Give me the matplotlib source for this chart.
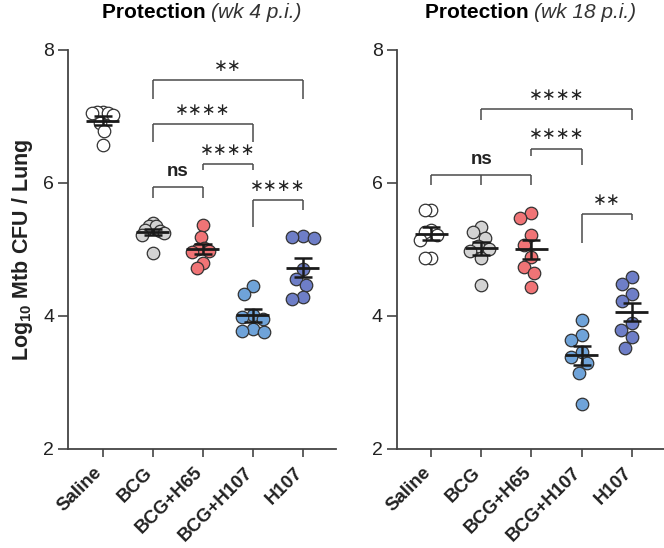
import numpy as np
import matplotlib.pyplot as plt
from matplotlib.transforms import ScaledTranslation

plt.rcParams['font.family'] = 'Liberation Sans'
plt.rcParams['mathtext.fontset'] = 'custom'
plt.rcParams['mathtext.rm'] = 'Liberation Sans'
plt.rcParams['mathtext.bf'] = 'Liberation Sans:bold'

# groups and colours
groups = ["Saline", "BCG", "BCG+H65", "BCG+H107", "H107"]
colors = ["#ffffff", "#d3d3d3", "#f07476", "#6fa3d9", "#6e7ec7"]

# week 4 p.i. (log10 CFU per lung)
wk4_saline = [7.07, 7.07, 7.05, 7.05, 7.02, 6.90, 6.78, 6.57]
wk4_bcg = [5.40, 5.35, 5.35, 5.30, 5.28, 5.25, 5.22, 4.95]
wk4_bcg_h65 = [5.37, 5.19, 5.02, 5.00, 4.98, 4.96, 4.80, 4.72]
wk4_bcg_h107 = [4.45, 4.33, 4.02, 3.98, 3.95, 3.80, 3.77, 3.76]
wk4_h107 = [5.20, 5.19, 5.17, 4.70, 4.55, 4.47, 4.28, 4.25]

# week 18 p.i.
wk18_saline = [5.60, 5.60, 5.30, 5.27, 5.22, 5.15, 4.87, 4.87]
wk18_bcg = [5.34, 5.27, 5.17, 5.05, 5.00, 4.98, 4.87, 4.47]
wk18_bcg_h65 = [5.55, 5.48, 5.22, 5.07, 4.89, 4.74, 4.64, 4.44]
wk18_bcg_h107 = [3.94, 3.71, 3.64, 3.46, 3.38, 3.29, 3.15, 2.68]
wk18_h107 = [4.59, 4.48, 4.33, 4.22, 3.89, 3.79, 3.68, 3.52]

# significance comparisons (group indices) and labels
wk4_pairs = [(1, 2), (2, 3), (3, 4), (1, 3), (1, 4)]
wk4_sig = ["ns", "****", "****", "****", "**"]
wk18_pairs = [(0, 1, 2), (2, 3), (3, 4), (1, 4)]
wk18_sig = ["ns", "****", "**", "****"]

# bracket layout: (top, leg ends, label y)
wk4_brackets = [(5.94, [5.77, 5.77], 6.17),
                (6.28, [6.20, 6.20], 6.50),
                (5.74, [5.34, 5.60], 5.95),
                (6.88, [6.62, 6.62], 7.10),
                (7.55, [7.27, 7.27], 7.76)]
wk18_brackets = [(6.12, [5.97, 5.97, 5.97], 6.36),
                 (6.51, [6.40, 6.27], 6.74),
                 (5.53, [5.10, 5.45], 5.75),
                 (7.11, [6.95, 6.95], 7.33)]

DIAM = 12.5  # marker diameter in px
SPREAD = 11  # max horizontal offset of a point centre, px


def swarm(ax, x0, vals, dmin):
    # simple beeswarm, then squeezed so the column stays narrow
    pts = ax.transData.transform(np.column_stack([np.full(len(vals), x0), vals]))
    ys = pts[:, 1]
    placed = []
    xs = np.zeros(len(vals))
    for i in np.argsort(-np.asarray(vals)):
        cands = [0.0]
        for (px, py) in placed:
            dy = abs(ys[i] - py)
            if dy < dmin:
                dx = np.sqrt(dmin ** 2 - dy ** 2)
                cands += [px - dx, px + dx]
        cands = sorted(cands, key=lambda c: (round(abs(c), 3), c))
        for c in cands:
            if all((c - px) ** 2 + (ys[i] - py) ** 2 >= dmin ** 2 - 1e-6 for px, py in placed):
                xs[i] = c
                placed.append((c, ys[i]))
                break
    if np.abs(xs).max() > SPREAD:
        xs = xs * SPREAD / np.abs(xs).max()
    scale = ax.transData.transform([[1, 0]])[0, 0] - ax.transData.transform([[0, 0]])[0, 0]
    return x0 + xs / scale


def bracket(ax, xs, top, legs, label, ty):
    c = "#4a4a4a"
    ax.plot([xs[0], xs[-1]], [top, top], color=c, lw=1.1, solid_capstyle='butt')
    for x, l in zip(xs, legs):
        ax.plot([x, x], [l, top], color=c, lw=1.1, solid_capstyle='butt')
    xm = (xs[0] + xs[-1]) / 2
    if label == "ns":
        ax.text(xm, ty, "ns", ha='center', va='center', fontsize=13.5, fontweight='bold',
                color='#222222')
    else:
        ax.text(xm, ty, "\u2217" * len(label), ha='center', va='center', fontsize=12,
                family='DejaVu Sans', color='#222222')


def title(fig, ax, week):
    # bold "Protection" followed by italic "(wk N p.i.)", centred over the axes
    t1 = fig.text(0, 0.978, "Protection ", fontsize=15, fontweight='bold', va='center')
    t2 = fig.text(0, 0.978, "(wk %d p.i.)" % week, fontsize=15, style='italic', va='center',
                  color='#333333')
    fig.canvas.draw()
    r = fig.canvas.get_renderer()
    w1 = t1.get_window_extent(r).width
    w2 = t2.get_window_extent(r).width
    bb = ax.get_window_extent(r)
    xc = (bb.x0 + bb.x1) / 2
    fw = fig.bbox.width
    x0 = xc - (w1 + w2) / 2
    t1.set_x(x0 / fw)
    t2.set_x((x0 + w1) / fw)


def panel(ax, data, pairs, sig, brk):
    ax.set_xlim(-0.69, 4.66)
    ax.set_ylim(2, 8)
    for i, vals in enumerate(data):
        vals = np.asarray(vals)
        xs = swarm(ax, i, vals, DIAM)
        ax.scatter(xs, vals, s=(DIAM * 0.72) ** 2, color=colors[i], edgecolor='#333333',
                   linewidth=0.9, zorder=3, clip_on=False)
        m = vals.mean()
        sem = vals.std(ddof=1) / np.sqrt(len(vals))
        ax.hlines(m, i - 0.33, i + 0.33, color='#1a1a1a', lw=2.0, zorder=4)
        ax.errorbar(i, m, yerr=sem, fmt='none', ecolor='#1a1a1a', elinewidth=1.8,
                    capsize=6.5, capthick=1.8, zorder=4)
    for p, s, (top, legs, ty) in zip(pairs, sig, brk):
        bracket(ax, p, top, legs, s, ty)
    ax.set_xticks(range(len(groups)))
    ax.set_xticklabels([])
    # rotated category labels, placed below the ticks
    shift = ScaledTranslation(-0.03, -0.21, ax.figure.dpi_scale_trans)
    for i, g in enumerate(groups):
        ax.text(i, 0, g, transform=ax.get_xaxis_transform() + shift, rotation=45,
                ha='right', va='center', rotation_mode='anchor', fontsize=13.5,
                fontweight='bold', color='#222222', clip_on=False)
    ax.set_yticks([2, 4, 6, 8])
    ax.tick_params(axis='y', labelsize=14, length=7, width=1.2, color='#444444', pad=3,
                   labelcolor='#222222')
    ax.tick_params(axis='x', length=6, width=1.2, color='#444444')
    for sp in ['top', 'right']:
        ax.spines[sp].set_visible(False)
    for sp in ['left', 'bottom']:
        ax.spines[sp].set_linewidth(1.3)
        ax.spines[sp].set_color('#444444')


fig = plt.figure(figsize=(6.64, 5.48), dpi=100)
ax1 = fig.add_axes([0.1024, 0.1807, 0.4036, 0.7281])
ax2 = fig.add_axes([0.5975, 0.1807, 0.4036, 0.7281])

panel(ax1, [wk4_saline, wk4_bcg, wk4_bcg_h65, wk4_bcg_h107, wk4_h107],
      wk4_pairs, wk4_sig, wk4_brackets)
panel(ax2, [wk18_saline, wk18_bcg, wk18_bcg_h65, wk18_bcg_h107, wk18_h107],
      wk18_pairs, wk18_sig, wk18_brackets)

ax1.set_ylabel(r"Log$_{\mathbf{10}}$ Mtb CFU / Lung", fontsize=15.5, fontweight='bold',
               labelpad=6, color='#222222')

title(fig, ax1, 4)
title(fig, ax2, 18)

fig.savefig("out.png", dpi=100)
